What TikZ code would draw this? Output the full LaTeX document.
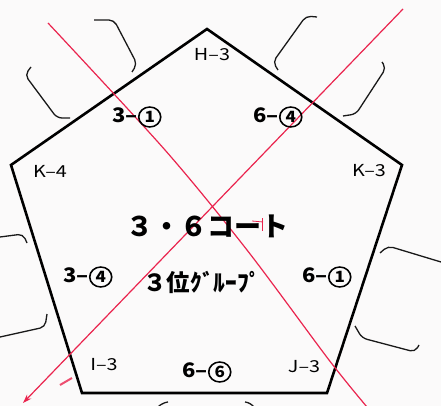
\documentclass[tikz,border=0pt]{standalone}
\usepackage{fontspec}
\newfontfamily\jp{Noto Sans CJK JP}
\usetikzlibrary{arrows.meta}
\definecolor{paper}{RGB}{251,250,250}
\definecolor{penred}{RGB}{234,36,78}
\newcommand\cnum[1]{\tikz[baseline=(cn.base)]\node[circle,draw,line width=1.5pt,inner sep=0pt,minimum size=20pt,font=\jp\bfseries\fontsize{15.5}{15.5}\selectfont](cn){#1};}
\tikzset{
  court/.style={line width=2.6pt, line join=miter, black},
  bracket/.style={line width=1.3pt, rounded corners=5pt, black!90},
  redline/.style={line width=1.2pt, penred},
  vlabel/.style={font=\jp\fontsize{16.5}{16.5}\selectfont, inner sep=0pt, xscale=1.2},
  pair/.style={font=\jp\bfseries\fontsize{20}{20}\selectfont, inner sep=0pt, xscale=1.1},
  title/.style={font=\jp\bfseries\fontsize{27}{27}\selectfont, inner sep=0pt},
  group/.style={font=\jp\bfseries\fontsize{23.5}{23.5}\selectfont, inner sep=0pt}
}
\begin{document}
\begin{tikzpicture}[x=1pt,y=-1pt]
\useasboundingbox (0,0) rectangle (441,406);
\fill[paper] (0,0) rectangle (441,406);

% brackets outside the court
\draw[bracket] (94,20) -- (114,20) -- (137,64) -- (132,72);
\draw[bracket] (31,67) -- (25,75) -- (57,118) -- (70,118);
\draw[bracket] (317,17) -- (306,16) -- (273,62) -- (278,70);
\draw[bracket] (382,62) -- (386,68) -- (356,114) -- (343,116);
\draw[bracket] (0,237) -- (23,234) -- (27,243);
\draw[bracket] (0,337) -- (45,327) -- (47,314);
\draw[bracket] (380,253) -- (388,246) -- (441,262);
\draw[bracket] (355,326) -- (362,338) -- (415,352) -- (419,345);
\draw[bracket] (158,407) -- (162,403) -- (168,402);
\draw[bracket] (245,402) -- (251,403) -- (254,407);

% court
\coordinate (T) at (207,29);
\coordinate (R) at (402,165);
\coordinate (BR) at (327,393);
\coordinate (BL) at (82,393);
\coordinate (L) at (11,165);
\draw[court] (T) -- (R) -- (BR) -- (BL) -- (L) -- cycle;

% red cross
\coordinate (r1a) at (48,23);
\coordinate (r1b) at (367,407);
\coordinate (r2a) at (403,9);
\coordinate (r2b) at (23,403);
\draw[redline] plot[smooth, tension=0.5] coordinates {(r1a) (165,150) (247,250) (329,360) (r1b)};
\draw[redline, -{Stealth[length=9pt,width=6pt]}] (r2a) -- (r2b);
\draw[penred, line width=2pt, opacity=0.8] (60,385) -- (72,378);
\draw[penred, line width=0.8pt] (252,221) -- (263,222);
\draw[penred, line width=0.8pt] (262,218) -- (262,231);

% labels
\node[vlabel] (h3) at (212,55) {H–3};
\node[vlabel] (k4) at (50,171) {K–4};
\node[vlabel] (k3) at (369,171) {K–3};
\node[vlabel] (i3) at (104,365) {I–3};
\node[vlabel] (j3) at (304,367) {J–3};
\node[pair] (p31) at (137,117) {3–\cnum{1}};
\node[pair] (p64) at (278,117) {6–\cnum{4}};
\node[pair] (p34) at (88,277) {3–\cnum{4}};
\node[pair] (p61) at (327,277) {6–\cnum{1}};
\node[pair] (p66) at (207,372) {6–\cnum{6}};
\node[title] (ttl) at (207,226) {３・６コート};
\node[group] (grp) at (202,282) {３位ｸﾞﾙｰﾌﾟ};
\end{tikzpicture}
\end{document}
